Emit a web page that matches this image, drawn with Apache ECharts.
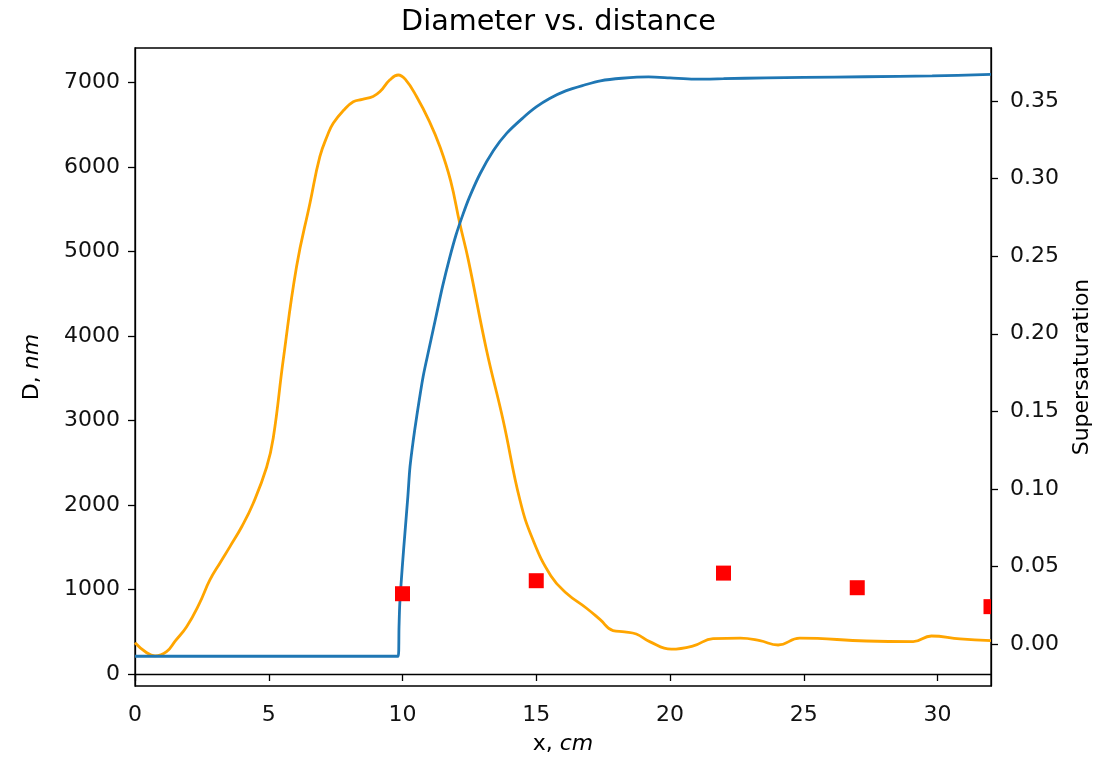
<!DOCTYPE html>
<html>
<head>
<meta charset="utf-8">
<script src="https://cdn.jsdelivr.net/npm/echarts@6/dist/echarts.min.js"></script>
<style>html,body{margin:0;padding:0;background:#fff}#c{width:1117px;height:757px}</style>
</head>
<body>
<div id="c"></div>
<script>
// Diameter D (nm) vs distance x (cm) — left axis
const diamX = [0, 5, 9.6, 9.84, 9.87, 9.90, 10.0, 10.09, 10.2, 10.28, 10.4, 10.53, 10.77, 11.0, 11.15, 11.3, 11.5, 11.75, 12.0, 12.25, 12.5, 12.9, 13.4, 13.9, 14.5, 15.0, 15.5, 16.1, 16.8, 17.4, 18.2, 19.2, 20.0, 20.9, 22.0, 23.6, 25.0, 27.3, 29.8, 32.0];
const diamY = [210, 210, 210, 210, 560, 840, 1300, 1665, 2100, 2450, 2760, 3045, 3518, 3860, 4080, 4300, 4590, 4910, 5195, 5430, 5640, 5920, 6195, 6400, 6580, 6710, 6810, 6900, 6970, 7020, 7050, 7066, 7055, 7040, 7045, 7055, 7060, 7068, 7078, 7095];
// Supersaturation vs distance — right axis
const satX = [0, 0.4, 0.75, 1.18, 1.5, 1.93, 2.4, 2.8, 3.2, 3.55, 4.0, 4.42, 4.92, 5.17, 5.54, 6.04, 6.54, 6.91, 7.2, 7.41, 7.8, 8.16, 8.5, 8.9, 9.16, 9.53, 9.84, 10.1, 10.53, 11.0, 11.4, 11.8, 12.14, 12.46, 13.14, 13.76, 14.39, 14.88, 15.55, 16.13, 16.88, 17.38, 17.87, 18.3, 18.74, 19.24, 20.05, 20.87, 21.61, 22.63, 23.36, 24.04, 24.85, 27.34, 29.09, 29.77, 30.84, 32.0];
const satY = [0.001, -0.005, -0.0075, -0.0048, 0.002, 0.0113, 0.026, 0.0414, 0.053, 0.0629, 0.076, 0.0908, 0.114, 0.133, 0.183, 0.2433, 0.2841, 0.3141, 0.328, 0.3356, 0.344, 0.3495, 0.351, 0.3529, 0.356, 0.3636, 0.3667, 0.364, 0.3527, 0.337, 0.3205, 0.2985, 0.2712, 0.2476, 0.1896, 0.1445, 0.0929, 0.0671, 0.044, 0.0329, 0.0232, 0.016, 0.0088, 0.008, 0.0066, 0.0017, -0.0032, -0.0011, 0.0036, 0.0039, 0.0023, -0.0005, 0.0039, 0.0021, 0.0017, 0.0053, 0.0034, 0.0023];
// Measured diameters — left axis
const measX = [10, 15, 22, 27, 32];
const measY = [950, 1104, 1194, 1021, 797];
// Tick values
const xTicks = [0, 5, 10, 15, 20, 25, 30];
const dTicks = [0, 1000, 2000, 3000, 4000, 5000, 6000, 7000];
const sTicks = [0, 0.05, 0.10, 0.15, 0.20, 0.25, 0.30, 0.35];

const FONT = 'DejaVu Sans';
const FS = 22;
const NFS = 22;
const MARK = 15;
const zip = (a, b) => a.map((v, i) => [v, b[i]]);

const axisCommon = {
  axisLine: {show: true, lineStyle: {color: '#000', width: 1.3}},
  splitLine: {show: false},
  nameTextStyle: {fontFamily: FONT, fontSize: NFS, color: '#000',
    rich: {i: {fontFamily: FONT, fontSize: NFS, fontStyle: 'italic', color: '#000'}}}
};

const chart = echarts.init(document.getElementById('c'), null, {renderer: 'canvas'});
chart.setOption({
  animation: false,
  backgroundColor: '#fff',
  title: {text: 'Diameter vs. distance', left: 'center', top: 3,
    textStyle: {fontFamily: FONT, fontSize: 28.7, fontWeight: 'normal', color: '#000'}},
  grid: {left: 135, right: 126, top: 48, bottom: 71, outerBoundsMode: 'none', containLabel: false,
    show: true, borderColor: '#000', borderWidth: 1.3, backgroundColor: 'transparent'},
  xAxis: Object.assign({}, axisCommon, {
    type: 'value', min: 0, max: 32,
    name: 'x, {i|cm}', nameLocation: 'middle', nameGap: 47,
    axisTick: {show: true, length: 7, lineStyle: {color: '#000', width: 1.3}, customValues: xTicks},
    axisLabel: {customValues: xTicks, margin: 18, fontFamily: FONT, fontSize: FS, color: '#111'}
  }),
  yAxis: [
    Object.assign({}, axisCommon, {
      type: 'value', min: -142, max: 7408, position: 'left',
      name: 'D, {i|nm}', nameLocation: 'middle', nameRotate: 90, nameGap: 92,
      axisTick: {show: true, length: 7, lineStyle: {color: '#000', width: 1.3}, customValues: dTicks},
      axisLabel: {customValues: dTicks, margin: 15, fontFamily: FONT, fontSize: FS, color: '#111',
        formatter: v => String(Math.round(v))}
    }),
    Object.assign({}, axisCommon, {
      type: 'value', min: -0.0269, max: 0.3841, position: 'right',
      name: 'Supersaturation', nameLocation: 'middle', nameRotate: 90, nameGap: 80,
      axisTick: {show: true, length: 7, lineStyle: {color: '#000', width: 1.3}, customValues: sTicks},
      axisLabel: {customValues: sTicks, margin: 19, fontFamily: FONT, fontSize: FS, color: '#111',
        formatter: v => v.toFixed(2)}
    })
  ],
  series: [
    {type: 'line', yAxisIndex: 1, data: zip(satX, satY), showSymbol: false, smooth: 0.45,
      lineStyle: {color: '#ffa500', width: 2.8}, z: 2},
    {type: 'line', yAxisIndex: 0, data: zip(diamX, diamY), showSymbol: false, smooth: 0.3,
      lineStyle: {color: '#1f77b4', width: 2.8}, z: 3},
    {type: 'custom', yAxisIndex: 0, data: zip(measX, measY), z: 4,
      renderItem: function (params, api) {
        const p = api.coord([api.value(0), api.value(1)]);
        const cs = params.coordSys;
        const r = echarts.graphic.clipRectByRect(
          {x: p[0] - MARK / 2, y: p[1] - MARK / 2, width: MARK, height: MARK},
          {x: cs.x, y: cs.y, width: cs.width, height: cs.height});
        return r ? {type: 'rect', shape: r, style: {fill: '#ff0000'}} : null;
      }}
  ]
});
</script>
</body>
</html>
